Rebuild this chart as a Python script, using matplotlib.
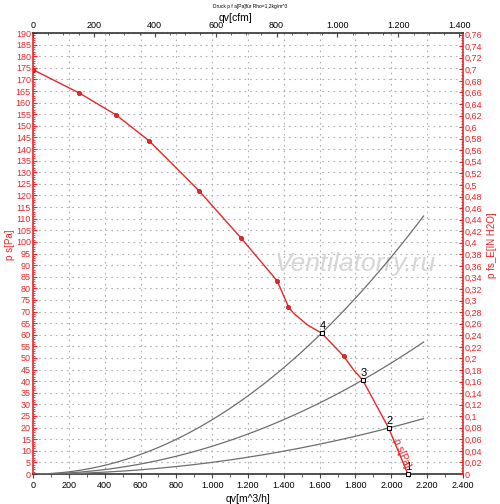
import matplotlib
matplotlib.use("Agg")
import matplotlib.pyplot as plt
import numpy as np
from matplotlib.ticker import MultipleLocator, FuncFormatter

plt.rcParams['font.family'] = ['Liberation Sans', 'DejaVu Sans']

# Fan curve (static pressure) m3/h vs Pa
curve_q = [0, 257, 464, 649, 928, 1163, 1363, 1426, 1454, 1532, 1611, 1734, 1790, 1840, 1985, 2092]
curve_p = [174.2, 164.2, 154.7, 143.5, 121.9, 101.5, 83.2, 72.0, 69.3, 64.2, 60.7, 50.8, 44.8, 40.5, 19.8, 0.0]
marker_q = [0, 257, 464, 649, 928, 1163, 1363, 1426, 1734]
marker_p = [174.2, 164.2, 154.7, 143.5, 121.9, 101.5, 83.2, 72.0, 50.8]

# Operating points (system curve intersections)
op_labels = ["1", "2", "3", "4"]
op_q = [2092, 1985, 1840, 1611]
op_p = [0.0, 19.8, 40.5, 60.7]
sys_end_q = 2180

RED = '#e8262a'
GREY = '#6e6e6e'
PA_PER_INH2O = 249.089
M3H_PER_CFM = 1.699
TL = 6.5

fig = plt.figure(figsize=(5.0, 5.04), dpi=100)
ax = fig.add_axes([0.066, 0.0595, 0.86, 0.875])
ax.set_xlim(0, 2400)
ax.set_ylim(0, 190)

# grid
ax.xaxis.set_major_locator(MultipleLocator(200))
ax.xaxis.set_minor_locator(MultipleLocator(100))
ax.yaxis.set_major_locator(MultipleLocator(5))
ax.yaxis.set_minor_locator(MultipleLocator(1))
ax.grid(True, which='major', color='#b0b0b0', linestyle=(0, (1.5, 3.5)), linewidth=0.8)

# system curves
for q0, p0 in zip(op_q[1:], op_p[1:]):
    k = p0 / q0 ** 2
    qs = np.linspace(0, sys_end_q, 200)
    ax.plot(qs, k * qs ** 2, color=GREY, lw=0.9, zorder=3)

# fan curve
ax.plot(curve_q, curve_p, color=RED, lw=1.0, zorder=4)
ax.plot(marker_q, marker_p, 'o', color=RED, ms=3.0, mec='#c01010', mew=0.5, zorder=5)

# operating points
for lab, q, p in zip(op_labels, op_q, op_p):
    ax.plot([q], [p], 's', mfc='white', mec='black', ms=3.5, mew=0.8, zorder=6, clip_on=False)
    ax.text(q + 5, p + 0.8, lab, fontsize=8, color='black', ha='center', va='bottom', zorder=7)

ax.text(2055, 9, 'p s[Pa]', color=RED, fontsize=7, rotation=-67, ha='center', va='center', zorder=7)

# watermark
ax.text(1800, 90.5, 'Ventilatorry.ru', fontsize=19, style='italic', color='#d6d6d6',
        ha='center', va='center', zorder=2)

def comma_thousands(v, pos):
    v = int(round(v))
    return f"{v:,}".replace(',', '.')

ax.xaxis.set_major_formatter(FuncFormatter(comma_thousands))
ax.tick_params(axis='x', which='major', labelsize=TL, length=3, color='#444444', pad=2)
ax.tick_params(axis='x', which='minor', length=2, color='#444444')
ax.tick_params(axis='y', which='major', direction='in', labelsize=TL, length=3, color=RED, labelcolor=RED, pad=1.5)
ax.tick_params(axis='y', which='minor', direction='in', length=1.5, color=RED)
ax.spines['left'].set_color(RED)
ax.spines['left'].set_linewidth(1.2)
ax.spines['bottom'].set_color('#333333')
ax.spines['bottom'].set_linewidth(1.2)
ax.spines['right'].set_visible(False)
ax.spines['top'].set_visible(False)
ax.set_xlabel('qv[m^3/h]', fontsize=7.5)
ax.xaxis.set_label_coords(0.5, -0.045)
ax.set_ylabel('p s[Pa]', fontsize=7, color=RED)
ax.yaxis.set_label_coords(-0.042, 0.52)

# right axis: in H2O
axr = ax.twinx()
axr.set_ylim(0, 190 / PA_PER_INH2O)
axr.yaxis.set_major_locator(MultipleLocator(0.02))
axr.yaxis.set_minor_locator(MultipleLocator(0.005))

def comma_dec(v, pos):
    s = f"{v:.2f}".rstrip('0').rstrip('.')
    return s.replace('.', ',')

axr.yaxis.set_major_formatter(FuncFormatter(comma_dec))
axr.tick_params(axis='y', which='major', direction='in', labelsize=TL, length=3, color=RED, labelcolor=RED, pad=1.5)
axr.tick_params(axis='y', which='minor', direction='in', length=1.5, color=RED)
for s in ['left', 'top', 'bottom']:
    axr.spines[s].set_visible(False)
axr.spines['right'].set_color(RED)
axr.spines['right'].set_linewidth(1.2)
axr.set_ylabel('p fs_E[IN H2O]', fontsize=7, color=RED)
axr.yaxis.set_label_coords(1.055, 0.52)

# top axis: cfm
axt = ax.twiny()
axt.set_xlim(0, 2400 / M3H_PER_CFM)
axt.xaxis.set_major_locator(MultipleLocator(200))
axt.xaxis.set_minor_locator(MultipleLocator(50))
axt.xaxis.set_major_formatter(FuncFormatter(comma_thousands))
axt.tick_params(axis='x', which='major', direction='in', labelsize=TL, length=3, color='#444444', pad=2)
axt.tick_params(axis='x', which='minor', direction='in', length=1.5, color='#444444')
for s in ['left', 'right', 'bottom']:
    axt.spines[s].set_visible(False)
axt.spines['top'].set_color('#333333')
axt.spines['top'].set_linewidth(1.2)
axt.set_xlabel('qv[cfm]', fontsize=7.5)
axt.xaxis.set_label_coords(0.47, 1.027)

fig.text(0.5, 0.988, 'Druck p f a[Pa]für Rho=1,2kg/m^3', fontsize=3.5, ha='center', va='center')

fig.savefig('out.png', dpi=100, facecolor='white')
